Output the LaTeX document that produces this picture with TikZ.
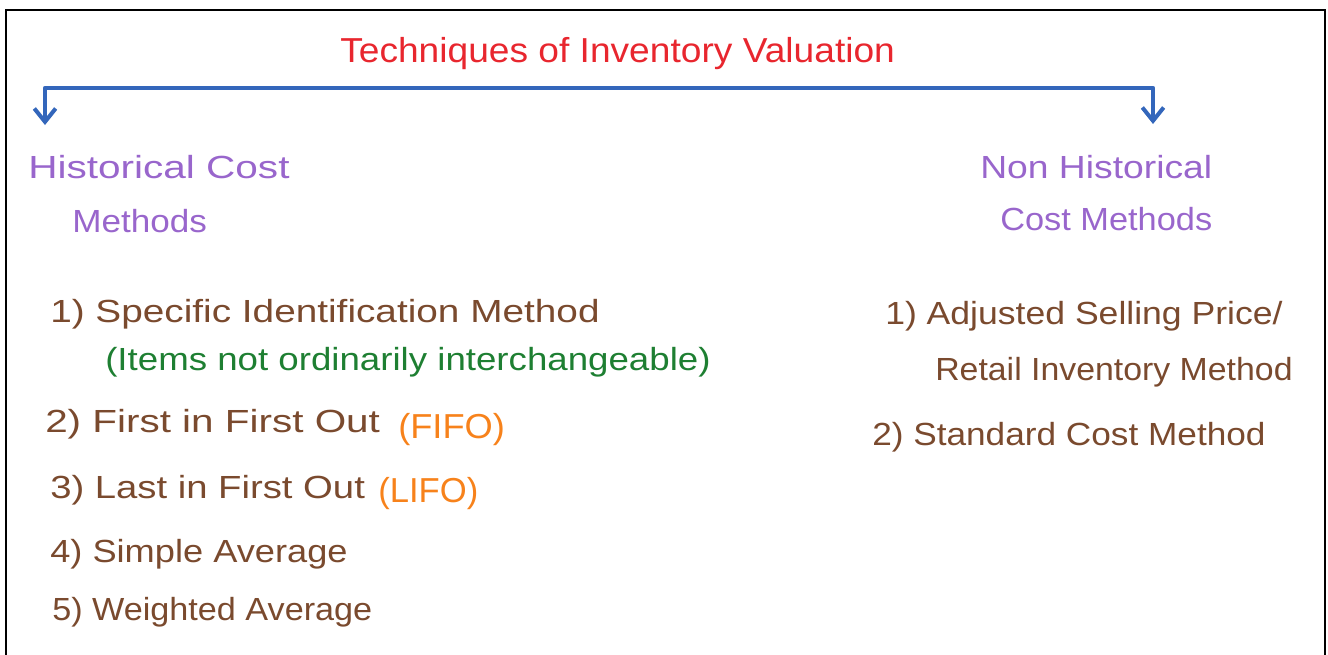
\documentclass[tikz,border=0pt]{standalone}
\usepackage{fontspec}
\setmainfont{Liberation Sans}
\usetikzlibrary{arrows.meta}
\definecolor{tred}{HTML}{E8262E}
\definecolor{tpurple}{HTML}{9966CC}
\definecolor{tbrown}{HTML}{7A4A2E}
\definecolor{tgreen}{HTML}{1E7F32}
\definecolor{torange}{HTML}{F7821B}
\definecolor{tblue}{HTML}{3366BB}
\newcommand\fitw[2]{\resizebox{#1pt}{\height}{#2}}
\tikzset{
  hw/.style={anchor=base west, inner sep=0pt, font=\fontsize{24}{28}\selectfont},
  ttl/.style={hw, text=tred, font=\fontsize{26}{30}\selectfont},
  head/.style={hw, text=tpurple},
  item/.style={hw, text=tbrown},
  note/.style={hw, text=tgreen},
  abbr/.style={hw, text=torange, font=\fontsize{26}{30}\selectfont},
  conn/.style={draw=tblue, line width=3.2pt, line cap=round, line join=round,
    {Straight Barb[length=10pt,width=16pt,line width=3pt]}-{Straight Barb[length=10pt,width=16pt,line width=3pt]}}
}
\begin{document}
\begin{tikzpicture}[x=0.75pt,y=-0.75pt]
\useasboundingbox (0,0) rectangle (1328,654);
\clip (0,0) rectangle (1328,654);
\draw[line width=2.2pt] (6,10) rectangle (1325,680);
% title
\node[ttl] (title) at (340,62) {\fitw{416}{Techniques of Inventory Valuation}};
% connector
\coordinate (bl) at (45,88);
\coordinate (br) at (1153,88);
\coordinate (la) at (45,125);
\coordinate (ra) at (1153,124);
\draw[conn] (la) -- (bl) -- (br) -- (ra);
% headings
\node[head] (hc1) at (28,178) {\fitw{196}{Historical Cost}};
\node[head] (hc2) at (72,232) {\fitw{101}{Methods}};
\node[head] (nh1) at (980,178) {\fitw{174}{Non Historical}};
\node[head] (nh2) at (1000,230) {\fitw{159}{Cost Methods}};
% left list
\node[item] (l1) at (50,322) {\fitw{412}{1) Specific Identification Method}};
\node[note] (l1n) at (105,370) {\fitw{454}{(Items not ordinarily interchangeable)}};
\node[item] (l2) at (45,432) {\fitw{251}{2) First in First Out}};
\node[abbr] (l2a) at (398,438) {\fitw{80}{(FIFO)}};
\node[item] (l3) at (50,498) {\fitw{236}{3) Last in First Out}};
\node[abbr] (l3a) at (378,502) {\fitw{75}{(LIFO)}};
\node[item] (l4) at (50,562) {\fitw{223}{4) Simple Average}};
\node[item] (l5) at (52,620) {\fitw{240}{5) Weighted Average}};
% right list
\node[item] (r1) at (885,324) {\fitw{298}{1) Adjusted Selling Price/}};
\node[item] (r1b) at (935,380) {\fitw{268}{Retail Inventory Method}};
\node[item] (r2) at (872,445) {\fitw{295}{2) Standard Cost Method}};
\end{tikzpicture}
\end{document}
